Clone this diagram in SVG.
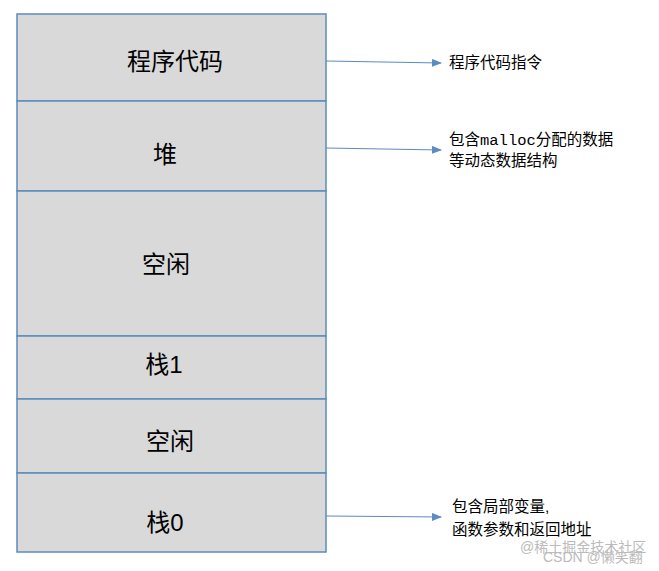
<svg xmlns="http://www.w3.org/2000/svg" width="659" height="571" viewBox="0 0 659 571">
<style>
.seg{fill:#d9d9d9;stroke:#5b8cc0;stroke-width:1.5}
.big{font-family:"Liberation Sans","Noto Sans CJK SC",sans-serif;font-size:24px;fill:#000;text-anchor:middle}
.lab{font-family:"Liberation Sans","Noto Sans CJK SC",sans-serif;font-size:15.5px;fill:#000}
.mono{font-family:"Liberation Mono",monospace}
.wm{font-family:"Liberation Sans","Noto Sans CJK SC",sans-serif;font-size:14px;fill:#bbb}
.con{stroke:#5b8cc0;stroke-width:1.2;fill:none;marker-end:url(#ah)}
</style>
<defs><marker id="ah" markerWidth="10" markerHeight="8" refX="9" refY="4" orient="auto" markerUnits="userSpaceOnUse"><path d="M0,0 L10,4 L0,8 Z" fill="#5b8cc0"/></marker></defs>
<rect width="659" height="571" fill="#fff"/>
<g id="code"><rect class="seg" x="17" y="14" width="309" height="87"/><text class="big" x="175" y="70">程序代码</text></g>
<g id="heap"><rect class="seg" x="17" y="101" width="309" height="90"/><text class="big" x="165" y="163">堆</text></g>
<g id="free1"><rect class="seg" x="17" y="191" width="309" height="145"/><text class="big" x="166" y="273">空闲</text></g>
<g id="stack1"><rect class="seg" x="17" y="336" width="309" height="63"/><text class="big" x="164" y="373">栈1</text></g>
<g id="free2"><rect class="seg" x="17" y="399" width="309" height="74"/><text class="big" x="170" y="450">空闲</text></g>
<g id="stack0"><rect class="seg" x="17" y="473" width="309" height="79"/><text class="big" x="165" y="531">栈0</text></g>
<g id="connectors">
<line class="con" x1="326" y1="61" x2="441" y2="63"/>
<line class="con" x1="326" y1="148" x2="441" y2="150"/>
<line class="con" x1="326" y1="516" x2="441" y2="517"/>
</g>
<g id="labels">
<text class="lab" x="449" y="68">程序代码指令</text>
<text class="lab" x="449" y="145">包含<tspan class="mono">malloc</tspan>分配的数据</text>
<text class="lab" x="449" y="166">等动态数据结构</text>
<text class="lab" x="452" y="512">包含局部变量,</text>
<text class="lab" x="452" y="535">函数参数和返回地址</text>
<text class="wm" x="520" y="552">@稀土掘金技术社区</text>
<text class="wm" x="543" y="562">CSDN @懒笑翻</text>
</g>
</svg>
